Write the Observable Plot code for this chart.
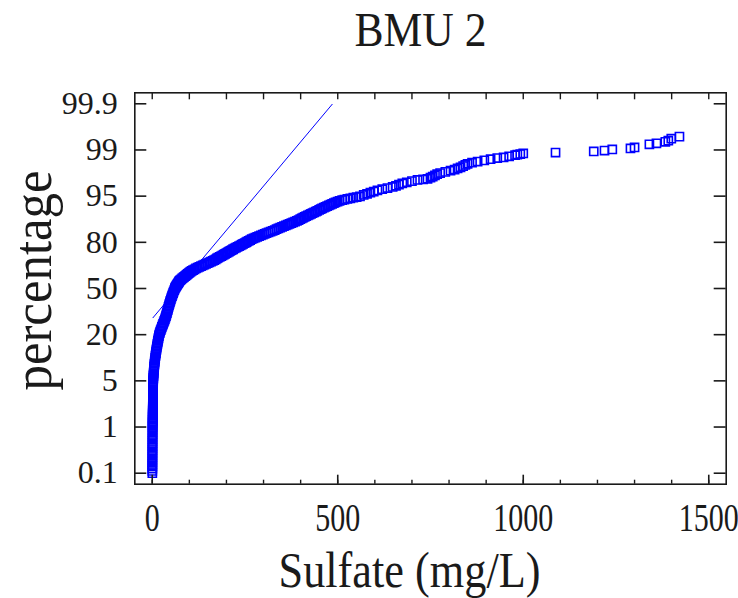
<!DOCTYPE html>
<html><head><meta charset="utf-8">
<script src="https://cdn.jsdelivr.net/npm/d3@7"></script>
<script src="https://cdn.jsdelivr.net/npm/@observablehq/plot@0.6"></script>
<style>html,body{margin:0;padding:0;background:#fff} svg{display:block}</style>
</head><body><div id="chart"></div>
<script>
const title = "BMU 2";
const xLabel = "Sulfate (mg/L)";
const yLabel = "percentage";
const yTickLabels = ["0.1","1","5","20","50","80","95","99","99.9"];
const yTickPercents = [0.1,1,5,20,50,80,95,99,99.9];
const xTickValues = [0,500,1000,1500];
const xMinorTicks = [0,100,200,300,400,500,600,700,800,900,1000,1100,1200,1300,1400,1500];

const sulfate = [
  0.2,0.2,0.3,0.3,0.3,0.4,0.4,0.4,0.5,0.5,0.5,0.6,0.6,0.6,0.7,0.7,0.7,0.8,0.8,0.9,0.9,
  0.95,1.0,1.05,1.1,1.15,1.2,1.25,1.3,1.35,1.4,1.45,1.5,1.55,1.6,1.65,1.7,1.75,1.8,1.85,1.9,1.95,2.0,2.05,2.1,2.15,2.2,2.25,2.3,2.35,2.4,2.45,2.5,
  2.7,3.0,3.2,3.5,3.8,4.1,4.4,4.8,5.2,5.6,6.0,6.5,6.9,7.4,8.0,8.6,9.2,9.9,10.5,11.1,11.8,12.5,13.3,14.0,14.8,15.5,16.3,17.1,17.9,18.8,
  20.2,21.4,22.9,24.5,26.1,27.7,29.3,30.9,32.5,34.1,35.7,37.0,38.2,39.4,40.5,41.7,42.9,44.0,45.2,46.4,47.6,48.8,50.2,51.7,53.2,54.7,56.2,57.7,59.4,61.0,
  62.2,63.4,64.6,65.8,67.1,68.5,69.8,71.2,72.4,73.6,75.5,78.2,80.8,83.6,86.0,88.5,91.0,93.5,95.9,98.3,100.9,103.5,
  106.5,110,114,118,122.5,127,131.5,136,140.5,145,149.5,154,158.5,163,167,171,174.5,178,182,186,189.5,193,196.5,200,203.5,207,210.5,214,218,222,226,230,234,238,241.5,245,249,253,
  256,260,264,268,273,278,283,288,293,298,303,308,313.5,319,324.5,330,335,340,345,350,355,360,365,370,375,380,385,390,394.5,399,403,407,411,415,419.5,424,428,432,436.5,441,
  445,450,454,458,462.5,467,471.5,476,480.5,485,489.5,494,499.5,505,
  512,518,526,534,542,551,560,570,579,588,597,607,
  620,634,648,657,665,674,686,700,715,730,742,750,756,762,768,776,790,804,815,823,831,838,844,850,862,877,895,912,930,947,962,978,984,992,1000,
  1087,1190,1219,1240,1289,1300,1340,1359,1383,1391,1399,1421
];
const percentage = [
  0.1,0.145,0.19,0.235,0.28,0.325,0.37,0.415,0.46,0.505,0.55,0.595,0.64,0.685,0.73,0.775,0.82,0.865,0.91,0.955,1.0,
  1.125,1.25,1.375,1.5,1.625,1.75,1.875,2,2.125,2.25,2.375,2.5,2.625,2.75,2.875,3,3.125,3.25,3.375,3.5,3.625,3.75,3.875,4,4.125,4.25,4.375,4.5,4.625,4.75,4.875,5,
  5.5,6,6.5,7,7.5,8,8.5,9,9.5,10,10.5,11,11.5,12,12.5,13,13.5,14,14.5,15,15.5,16,16.5,17,17.5,18,18.5,19,19.5,20,
  21,22,23,24,25,26,27,28,29,30,31,32,33,34,35,36,37,38,39,40,41,42,43,44,45,46,47,48,49,50,
  50.5,51,51.5,52,52.5,53,53.5,54,54.5,55,55.5,56,56.5,57,57.5,58,58.5,59,59.5,60,60.5,61,
  61.5,62,62.5,63,63.5,64,64.5,65,65.5,66,66.5,67,67.5,68,68.5,69,69.5,70,70.5,71,71.5,72,72.5,73,73.5,74,74.5,75,75.5,76,76.5,77,77.5,78,78.5,79,79.5,80,
  80.25,80.5,80.75,81,81.25,81.5,81.75,82,82.25,82.5,82.75,83,83.25,83.5,83.75,84,84.25,84.5,84.75,85,85.25,85.5,85.75,86,86.25,86.5,86.75,87,87.25,87.5,87.75,88,88.25,88.5,88.75,89,89.25,89.5,89.75,90,
  90.25,90.5,90.75,91,91.25,91.5,91.75,92,92.25,92.5,92.75,93,93.25,93.5,
  93.7,93.9,94.1,94.3,94.5,94.7,94.9,95.1,95.2,95.3,95.4,95.5,
  95.6,95.7,95.8,95.9,96.0,96.1,96.2,96.3,96.4,96.45,96.5,96.6,96.7,96.8,96.9,97.0,97.1,97.2,97.3,97.4,97.5,97.6,97.7,97.8,97.9,98.0,98.1,98.2,98.3,98.35,98.45,98.55,98.6,98.65,98.7,
  98.78,98.87,98.95,99.01,99.03,99.05,99.11,99.13,99.16,99.18,99.22,99.26
];
const fitLineSulfate = [2, 485];
const fitLinePercent = [31, 99.89];

// probability-axis position: label index with linear steps between labelled percentages
function pos(p) {
  const P = yTickPercents;
  let i = 0;
  while (i < P.length - 2 && p > P[i + 1]) i++;
  return i + (p - P[i]) / (P[i + 1] - P[i]);
}

const points = sulfate.map((x, i) => ({x, y: pos(percentage[i])}));
const fit = fitLineSulfate.map((x, i) => ({x, y: pos(fitLinePercent[i])}));
const yIdx = yTickLabels.map((_, i) => i);

const W = 738, H = 598;
const mL = 134.3, mR = 12.3, mT = 92.3, mB = 114.3;
const fw = W - mL - mR, fh = H - mT - mB;
const font = "Liberation Serif";
const ink = "#1a1a1a";
const blue = "#0000ff";

const chart = Plot.plot({
  width: W, height: H,
  marginLeft: mL, marginRight: mR, marginTop: mT, marginBottom: mB,
  style: {fontFamily: font, color: ink, background: "#fff"},
  x: {domain: [-47, 1547]},
  y: {domain: [-0.238, 8.238]},
  marks: [
    Plot.line(fit, {x: "x", y: "y", stroke: blue, strokeWidth: 1}),
    Plot.dot(points, {x: "x", y: "y", symbol: "square", r: 4.6, stroke: blue, fill: "none", strokeWidth: 1.6}),
    Plot.frame({stroke: ink, strokeWidth: 1.6}),
    Plot.tickY(yIdx, {y: d => d, insetRight: fw - 12, stroke: ink, strokeWidth: 1.6}),
    Plot.tickY(yIdx, {y: d => d, insetLeft: fw - 12, stroke: ink, strokeWidth: 1.6}),
    Plot.tickX(xTickValues, {x: d => d, insetTop: fh - 9, stroke: ink, strokeWidth: 1.6}),
    Plot.tickX(xMinorTicks, {x: d => d, insetTop: fh - 4, stroke: ink, strokeWidth: 1.4}),
    Plot.tickX(xMinorTicks, {x: d => d, insetBottom: fh - 7, stroke: ink, strokeWidth: 1.4}),
    Plot.axisY(yIdx, {tickSize: 0, tickPadding: 17, tickFormat: i => yTickLabels[i], fontSize: 32, label: null, fill: ink}),
    Plot.axisX(xTickValues, {tickSize: 0, tickPadding: 18, tickFormat: d => String(d), fontSize: 40, label: null, fill: ink}),
    Plot.text([title], {frameAnchor: "top", dx: -10, dy: -47, lineAnchor: "bottom", fontSize: 48, fill: ink}),
    Plot.text([xLabel], {frameAnchor: "bottom", dx: -21, dy: 87, lineAnchor: "middle", fontSize: 50, fill: ink}),
    Plot.text([yLabel], {frameAnchor: "left", dx: -101, dy: -8, rotate: -90, textAnchor: "middle", lineAnchor: "middle", fontSize: 54, fill: ink})
  ]
});
document.getElementById("chart").appendChild(chart);

// condensed serif lettering like the reference
const lengths = {[title]: 132, [xLabel]: 262, [yLabel]: 220};
d3.select(chart).selectAll("text").each(function () {
  const t = this.textContent;
  if (lengths[t] !== undefined) {
    d3.select(this).attr("textLength", lengths[t]).attr("lengthAdjust", "spacingAndGlyphs");
  }
});
d3.select(chart).selectAll('g[aria-label="x-axis tick label"] text').each(function () {
  const n = this.textContent.length;
  d3.select(this).attr("textLength", n * 15).attr("lengthAdjust", "spacingAndGlyphs");
});
</script>
</body></html>
